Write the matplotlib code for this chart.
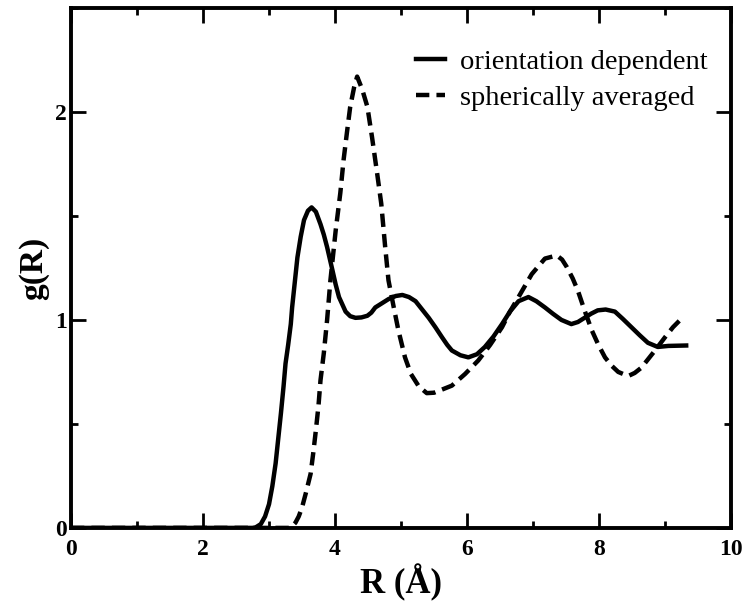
import matplotlib.pyplot as plt
from matplotlib.ticker import MultipleLocator

# orientation dependent g(R)
r_orient = [0.0, 2.75, 2.80, 2.875, 2.94, 3.00, 3.05, 3.10, 3.14, 3.18, 3.22, 3.25, 3.29,
            3.33, 3.35, 3.39, 3.43, 3.48, 3.53, 3.59, 3.645, 3.71, 3.78, 3.83, 3.88, 3.96,
            4.01, 4.06, 4.16, 4.23, 4.31, 4.40, 4.49, 4.55, 4.61, 4.71, 4.81, 4.92, 5.02,
            5.12, 5.22, 5.32, 5.42, 5.52, 5.62, 5.70, 5.77, 5.90, 6.02, 6.15, 6.27, 6.40,
            6.53, 6.65, 6.78, 6.93, 7.05, 7.18, 7.30, 7.43, 7.58, 7.68, 7.78, 7.88, 7.98,
            8.10, 8.24, 8.36, 8.49, 8.62, 8.74, 8.89, 9.05, 9.32]
g_orient = [0.0, 0.0, 0.003, 0.018, 0.055, 0.114, 0.20, 0.31, 0.43, 0.55, 0.68, 0.79, 0.88,
            0.98, 1.06, 1.18, 1.30, 1.40, 1.48, 1.525, 1.541, 1.52, 1.46, 1.41, 1.35, 1.24,
            1.17, 1.11, 1.04, 1.018, 1.01, 1.012, 1.02, 1.035, 1.06, 1.08, 1.10, 1.115, 1.12,
            1.11, 1.09, 1.05, 1.01, 0.965, 0.917, 0.88, 0.853, 0.83, 0.82, 0.835, 0.87, 0.92,
            0.98, 1.04, 1.09, 1.11, 1.09, 1.06, 1.03, 1.00, 0.98, 0.99, 1.01, 1.03, 1.046,
            1.05, 1.04, 1.005, 0.965, 0.925, 0.89, 0.87, 0.875, 0.877]

# spherically averaged g(R)
r_sph = [0.0, 3.30, 3.35, 3.40, 3.45, 3.50, 3.56, 3.63, 3.67, 3.71, 3.75, 3.78, 3.83,
         3.88, 3.93, 4.01, 4.08, 4.13, 4.18, 4.23, 4.29, 4.335, 4.41, 4.49, 4.56, 4.64,
         4.70, 4.76, 4.81, 4.89, 4.96, 5.06, 5.15, 5.27, 5.39, 5.50, 5.62, 5.77, 5.97,
         6.17, 6.35, 6.53, 6.65, 6.78, 6.98, 7.18, 7.36, 7.44, 7.51, 7.60, 7.68, 7.78,
         7.89, 7.99, 8.09, 8.19, 8.29, 8.44, 8.54, 8.64, 8.74, 8.84, 9.00, 9.12, 9.22]
g_sph = [0.0, 0.0, 0.008, 0.025, 0.055, 0.098, 0.17, 0.26, 0.36, 0.47, 0.59, 0.71, 0.84,
         1.00, 1.19, 1.43, 1.61, 1.77, 1.90, 2.025, 2.12, 2.17, 2.11, 2.025, 1.88, 1.70,
         1.56, 1.35, 1.19, 1.06, 0.95, 0.82, 0.74, 0.68, 0.648, 0.65, 0.665, 0.684, 0.74,
         0.805, 0.88, 0.965, 1.04, 1.11, 1.22, 1.295, 1.31, 1.29, 1.255, 1.20, 1.14, 1.046,
         0.95, 0.88, 0.82, 0.78, 0.75, 0.73, 0.745, 0.77, 0.81, 0.85, 0.917, 0.965, 0.997]

plt.rcParams['font.family'] = ['Liberation Serif', 'DejaVu Serif']

fig = plt.figure(figsize=(7.45, 6.11), dpi=100)
ax = fig.add_axes([0.0953, 0.136, 0.886, 0.851])

ax.plot(r_orient, g_orient, color='black', lw=3.2, label='orientation dependent')
ax.plot(r_sph, g_sph, color='black', lw=3.2, linestyle=(0, (3, 1.6)), label='spherically averaged')

ax.set_xlim(0, 10)
ax.set_ylim(0, 2.5)
ax.xaxis.set_major_locator(MultipleLocator(2))
ax.xaxis.set_minor_locator(MultipleLocator(1))
ax.yaxis.set_major_locator(MultipleLocator(1))
ax.yaxis.set_minor_locator(MultipleLocator(0.5))
ax.tick_params(which='both', direction='in', top=True, right=True, width=2)
ax.tick_params(which='major', length=11, labelsize=17)
ax.tick_params(axis='x', which='major', pad=8)
ax.tick_params(axis='y', which='major', pad=3)
ax.tick_params(which='minor', length=5)
for lbl in ax.get_xticklabels() + ax.get_yticklabels():
    lbl.set_fontweight('bold')
for sp in ax.spines.values():
    sp.set_linewidth(2.8)

ax.set_xlabel('R (Å)', fontsize=25, fontweight='bold', labelpad=3)
ax.set_ylabel('g(R)', fontsize=24, fontweight='bold', labelpad=4)

ax.legend(loc='upper right', frameon=False, fontsize=20.5, handlelength=1.0,
          handletextpad=0.55, labelspacing=0.35, borderaxespad=0,
          bbox_to_anchor=(0.982, 0.942))

fig.savefig('out.png', dpi=100)
